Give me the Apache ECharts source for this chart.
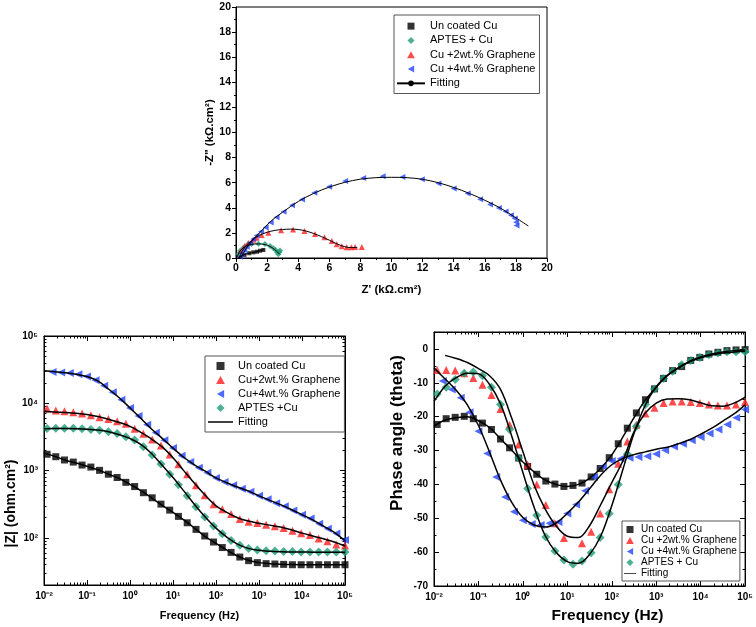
<!DOCTYPE html>
<html><head><meta charset="utf-8">
<script src="https://cdn.jsdelivr.net/npm/echarts@6/dist/echarts.min.js"></script>
<style>html,body{margin:0;padding:0;background:#fff}#c{width:756px;height:627px}</style>
</head><body><div id="c"></div>
<script>
// ---------- Nyquist data (kOhm.cm2) ----------
const nyBlackRe = [0.3, 0.55, 0.85, 1.11, 1.35, 1.55, 1.76];
const nyBlackIm = [0.1, 0.25, 0.38, 0.45, 0.5, 0.58, 0.64];
const nyGreenRe = [0.15, 0.26, 0.47, 0.69, 1.01, 1.44, 1.86, 2.19, 2.4, 2.55, 2.65, 2.72, 2.8, 2.83];
const nyGreenIm = [0.32, 0.58, 0.82, 1.01, 1.12, 1.14, 1.12, 0.96, 0.77, 0.64, 0.45, 0.3, 0.48, 0.6];
const nyRedRe = [0.3, 0.55, 0.79, 1.1, 1.33, 1.65, 2.08, 2.9, 3.67, 4.4, 5.08, 5.69, 6.16, 6.48, 6.8, 7.12, 7.42, 7.66, 8.09];
const nyRedIm = [0.55, 0.95, 1.22, 1.45, 1.62, 1.83, 2.02, 2.22, 2.27, 2.15, 1.92, 1.65, 1.35, 1.09, 0.93, 0.85, 0.85, 0.88, 0.88];
const nyBlueRe = [0.26, 0.37, 0.53, 0.69, 0.9, 1.11, 1.33, 1.61, 1.91, 2.23, 2.61, 3.06, 3.6, 4.25, 5.04, 5.99, 7.02, 8.18, 9.43, 10.7, 11.95, 13.02, 14.0, 14.9, 15.7, 16.34, 16.9, 17.34, 17.68, 17.93, 18.01, 18.04];
const nyBlueIm = [0.1, 0.37, 0.64, 0.9, 1.22, 1.51, 1.8, 2.12, 2.43, 2.82, 3.24, 3.69, 4.2, 4.67, 5.19, 5.67, 6.13, 6.37, 6.52, 6.45, 6.28, 5.93, 5.53, 5.14, 4.68, 4.27, 3.98, 3.71, 3.41, 3.15, 2.84, 2.58];
const nyFitBlackRe = [0.15, 0.4, 0.8, 1.2, 1.5, 1.8];
const nyFitBlackIm = [0.0, 0.2, 0.37, 0.47, 0.56, 0.66];
const nyFitGreenRe = [0.05, 0.2, 0.45, 0.8, 1.2, 1.6, 2.0, 2.35, 2.6, 2.8];
const nyFitGreenIm = [0.0, 0.45, 0.8, 1.02, 1.12, 1.12, 1.02, 0.8, 0.55, 0.3];
const nyFitRedRe = [0.2, 0.5, 1.0, 1.5, 2.0, 2.5, 3.0, 3.5, 4.0, 4.5, 5.0, 5.5, 6.0, 6.5, 7.0, 7.4, 7.8];
const nyFitRedIm = [0.0, 0.75, 1.4, 1.8, 2.05, 2.2, 2.27, 2.3, 2.27, 2.15, 1.95, 1.7, 1.42, 1.12, 0.9, 0.83, 0.84];
const nyFitBlueRe = [0.3, 0.5, 0.8, 1.2, 1.7, 2.3, 3.0, 4.0, 5.0, 6.0, 7.0, 8.0, 9.0, 10.0, 11.0, 12.0, 13.0, 14.0, 15.0, 16.0, 17.0, 18.0, 18.8];
const nyFitBlueIm = [0.0, 0.45, 1.0, 1.6, 2.25, 3.0, 3.65, 4.5, 5.15, 5.65, 6.03, 6.28, 6.4, 6.43, 6.4, 6.27, 6.0, 5.62, 5.15, 4.6, 3.98, 3.2, 2.55];

// ---------- Frequencies (Hz) ----------
const freq = [0.0118, 0.0188, 0.030, 0.048, 0.0767, 0.123, 0.196, 0.314, 0.502, 0.802, 1.28, 2.05, 3.28, 5.25, 8.38, 13.4, 21.4, 34.3, 54.8, 87.6, 140, 224, 358, 573, 916, 1465, 2340, 3740, 5985, 9570, 15300, 24450, 39100, 62500, 100000];
const freqBlue = [0.0158, 0.0251, 0.0398, 0.0631, 0.1, 0.158, 0.251, 0.398, 0.631, 1.0, 1.58, 2.51, 3.98, 6.31, 10, 15.8, 25.1, 39.8, 63.1, 100, 158, 251, 398, 631, 1000, 1585, 2512, 3981, 6310, 10000, 15850, 25120, 39810, 63100, 100000];
const fitFreq = [0.01, 0.0178, 0.0316, 0.0562, 0.1, 0.178, 0.316, 0.562, 1, 1.78, 3.16, 5.62, 10, 17.8, 31.6, 56.2, 100, 178, 316, 562, 1000, 1778, 3162, 5623, 10000, 17783, 31623, 56234, 100000];

// ---------- Bode |Z| (ohm.cm2) ----------
const zBlack = [1750, 1610, 1440, 1340, 1210, 1130, 1010, 885, 790, 670, 580, 470, 395, 318, 259, 209, 168, 134, 107, 87, 72, 61, 52, 46, 43, 41.5, 41, 40.5, 40, 40, 40, 40, 40, 40, 40];
const zRed = [8340, 7800, 7630, 7370, 7040, 6650, 6210, 5870, 5420, 4950, 4180, 3525, 2905, 2367, 1742, 1242, 883, 607, 432, 318, 268, 226, 191, 174, 167, 157, 149, 141, 128, 117, 111, 98, 89, 80, 77];
const zGreen = [4230, 4280, 4280, 4250, 4180, 4100, 3980, 3780, 3550, 3200, 2850, 2270, 1700, 1250, 880, 615, 425, 290, 205, 150, 115, 92, 78, 70, 66, 64.5, 64, 63, 63, 62, 62, 62, 62, 62, 62];
const zBlue = [29100, 28800, 28300, 27100, 25000, 22000, 18200, 14600, 11300, 8550, 6500, 4800, 3650, 2830, 2160, 1670, 1340, 1100, 930, 780, 680, 605, 540, 485, 422, 375, 329, 295, 255, 222, 194, 162, 137, 116, 93];
const zFitBlack = [1820, 1630, 1430, 1300, 1160, 1030, 885, 765, 625, 505, 395, 305, 240, 185, 140, 105, 83, 66, 54, 46.5, 43, 41.5, 40.8, 40.3, 40.1, 40, 40, 40, 40];
const zFitRed = [7550, 7450, 7300, 7100, 6800, 6350, 5800, 5200, 4550, 3700, 2950, 2250, 1550, 1000, 650, 430, 300, 240, 200, 178, 165, 155, 145, 132, 118, 107, 97, 87, 76];
const zFitGreen = [4200, 4230, 4230, 4200, 4130, 4000, 3780, 3420, 3000, 2450, 1800, 1200, 790, 500, 315, 205, 140, 103, 81, 70, 65.5, 63.5, 62.5, 62, 62, 61.5, 61.5, 61.5, 61.5];
const zFitBlue = [30400, 29500, 28500, 27000, 25000, 21500, 16300, 12100, 8550, 6000, 4150, 3020, 2160, 1580, 1220, 980, 780, 660, 570, 500, 422, 362, 312, 265, 222, 186, 150, 121, 91];

// ---------- Bode phase (deg) ----------
const phBlack = [-22.3, -20.6, -20.2, -19.9, -20.6, -21.9, -23.8, -26.6, -29.2, -32.2, -34.7, -37.0, -39.0, -39.9, -40.6, -40.3, -39.6, -37.8, -35.3, -32.1, -28.0, -23.4, -18.9, -15.0, -11.8, -8.7, -6.4, -5.2, -3.4, -2.5, -1.5, -1.0, -0.5, -0.3, -0.2];
const phRed = [-6.2, -6.2, -6.4, -7.2, -8.6, -10.6, -13.6, -17.7, -22.4, -28.2, -34.2, -40.0, -46.1, -51.5, -55.8, null, -57.4, -54.0, -48.6, -41.4, -33.9, -27.3, -22.4, -19.1, -17.4, -16.0, -15.5, -15.5, -15.7, -16.0, -16.4, -16.7, -16.7, -16.4, -15.7];
const phGreen = [-13.3, -11.3, -9.0, -7.2, -6.8, -7.9, -11.3, -16.4, -23.8, -32.2, -41.2, -49.1, -55.5, -59.7, -62.3, -63.6, -62.6, -60.2, -55.7, -48.6, -40.0, -31.0, -22.8, -16.4, -11.8, -8.7, -6.6, -4.7, -3.4, -2.5, -1.7, -1.2, -0.8, -0.8, -0.8];
const phBlue = [-9.5, -12.0, -14.4, -18.7, -24.3, -30.9, -37.8, -43.7, -48.1, -50.6, -51.7, -52.0, -51.5, -51.1, -48.6, -45.9, -41.9, -37.8, -34.7, -33.1, -32.4, -32.1, -31.9, -31.7, -31.0, -29.9, -28.8, -28.0, -27.0, -26.0, -25.0, -23.8, -22.3, -20.3, -17.9];
const phFitBlack = [-22.8, -21.0, -20.3, -20.0, -21.2, -23.2, -26.6, -29.9, -33.4, -36.3, -38.7, -40.0, -40.6, -40.0, -38.2, -35.3, -31.3, -26.0, -20.3, -15.2, -11.3, -7.9, -5.7, -3.7, -2.4, -1.5, -0.9, -0.5, -0.3];
const phFitRed = [null, -1.9, -2.8, -4.0, -5.8, -7.9, -12.0, -20.5, -30.3, -40.2, -47.2, -52.3, -55.3, -55.7, -52.2, -46.0, -39.5, -33.0, -24.5, -19.0, -16.0, -14.8, -14.7, -15.0, -15.9, -16.8, -16.9, -16.0, -14.2];
const phFitGreen = [-15.5, -11.0, -8.5, -7.2, -7.3, -10.5, -16.3, -25.8, -36.5, -46.7, -55.1, -60.1, -62.8, -63.3, -60.7, -55.3, -46.3, -35.6, -25.0, -16.7, -11.2, -7.8, -5.5, -3.8, -2.6, -1.8, -1.2, -0.9, -0.7];
const phFitBlue = [-5.6, -8.9, -12.2, -16.5, -22.6, -30.5, -38.8, -45.3, -49.8, -52.0, -52.6, -51.4, -48.5, -45.2, -41.3, -37.3, -34.2, -32.3, -31.2, -30.4, -29.6, -29.0, -28.0, -26.8, -25.2, -23.4, -21.3, -19.2, -16.5];

// ---------- styling ----------
const FONT = '"Liberation Sans", Arial, sans-serif';
const C_BLACK = '#000000', C_RED = '#ff1e1e', C_BLUE = '#2244ff', C_GREEN = '#1f9e78';
const SYM_SQ = 'path://M0,0H10V10H0Z';
const SYM_DIA = 'path://M5,0L10,5L5,10L0,5Z';
const SYM_TRI = 'path://M5,0L10,9L0,9Z';
const SYM_LEFT = 'path://M10,0L10,10L1,5Z';
const LINE_ICON = 'path://M0,0H100V6H0Z';
const SUP = {'-':'\u207B','0':'\u2070','1':'\u00B9','2':'\u00B2','3':'\u00B3','4':'\u2074','5':'\u2075','6':'\u2076','7':'\u2077','8':'\u2078','9':'\u2079'};
function powLabel(v) {
  const e = Math.log10(v), r = Math.round(e);
  if (Math.abs(e - r) > 1e-6) return '';
  return '10' + String(r).split('').map(c => SUP[c]).join('');
}
function pairs(xs, ys) {
  const out = [];
  for (let i = 0; i < xs.length; i++) if (ys[i] != null && xs[i] != null) out.push([xs[i], ys[i]]);
  return out;
}
function minorLog(e0, e1, firstMult) {
  const out = [];
  for (let e = e0; e <= e1; e++) for (let m = (e === e0 ? firstMult : 2); m <= 9; m++) out.push(+(m * Math.pow(10, e)).toPrecision(6));
  return out;
}
const minorFreq = minorLog(-2, 4, 2);
const minorZ = minorLog(1, 4, 3);

const axLine = {show: true, onZero: false, lineStyle: {color: '#000', width: 1}};
const noLine = {show: false, onZero: false};
function lbl(size) { return {color: '#000', fontFamily: FONT, fontWeight: 'bold', fontSize: size}; }

function logAxis(grid, pos, min, max, opts) {
  const a = {
    type: 'log', gridIndex: grid, position: pos, min: min, max: max, logBase: 10,
    axisLine: opts.line ? axLine : noLine,
    axisTick: {show: true, inside: true, length: opts.minor ? 2.5 : 5, lineStyle: {color: '#000', width: 1}},
    axisLabel: {show: false},
    splitLine: {show: false}, minorTick: {show: false}, minorSplitLine: {show: false}
  };
  if (opts.minor) a.axisTick.customValues = opts.minor;
  if (opts.label) a.axisLabel = Object.assign({show: true, formatter: powLabel, margin: 6, showMinLabel: true}, lbl(opts.label));
  if (opts.name) {
    a.name = opts.name; a.nameLocation = 'middle'; a.nameGap = opts.nameGap;
    a.nameTextStyle = {color: '#000', fontFamily: FONT, fontWeight: 'bold', fontSize: opts.nameSize, padding: opts.namePad || 0};
  }
  return a;
}

const xAxis = [
  { // 0 Nyquist
    type: 'value', gridIndex: 0, min: 0, max: 20, interval: 2,
    axisLine: axLine, axisTick: {inside: false, length: 4, lineStyle: {color: '#000'}},
    minorTick: {show: true, splitNumber: 2, length: 2, lineStyle: {color: '#000'}},
    axisLabel: Object.assign({margin: 5}, lbl(10.5)), splitLine: {show: false},
    name: "Z' (k\u03A9.cm\u00B2)", nameLocation: 'middle', nameGap: 26,
    nameTextStyle: {color: '#000', fontFamily: FONT, fontWeight: 'bold', fontSize: 11.5}
  },
  logAxis(1, 'bottom', 0.01, 1e5, {line: true, label: 10, name: 'Frequency (Hz)', nameGap: 25, nameSize: 11, namePad: [0, 0, 0, 10]}), // 1
  logAxis(1, 'bottom', 0.01, 1e5, {minor: minorFreq}), // 2
  logAxis(1, 'top', 0.01, 1e5, {line: true}), // 3
  logAxis(1, 'top', 0.01, 1e5, {minor: minorFreq}), // 4
  logAxis(2, 'bottom', 0.01, 1e5, {line: true, label: 10, name: 'Frequency (Hz)', nameGap: 22, nameSize: 15.5, namePad: [0, 0, 0, 36]}), // 5
  logAxis(2, 'bottom', 0.01, 1e5, {minor: minorFreq}), // 6
  logAxis(2, 'top', 0.01, 1e5, {line: true}), // 7
  logAxis(2, 'top', 0.01, 1e5, {minor: minorFreq}) // 8
];

const yAxis = [
  { // 0 Nyquist
    type: 'value', gridIndex: 0, min: 0, max: 20, interval: 2,
    axisLine: axLine, axisTick: {inside: false, length: 4, lineStyle: {color: '#000'}},
    minorTick: {show: true, splitNumber: 2, length: 2, lineStyle: {color: '#000'}},
    axisLabel: Object.assign({margin: 5}, lbl(10.5)), splitLine: {show: false},
    name: "-Z'' (k\u03A9.cm\u00B2)", nameLocation: 'middle', nameGap: 20,
    nameTextStyle: {color: '#000', fontFamily: FONT, fontWeight: 'bold', fontSize: 11.5}
  },
  logAxis(1, 'left', 20, 1e5, {line: true, label: 10, name: '|Z| (ohm.cm\u00B2)', nameGap: 25, nameSize: 14, namePad: [0, 86, 0, 0]}), // 1
  logAxis(1, 'left', 20, 1e5, {minor: minorZ}), // 2
  logAxis(1, 'right', 20, 1e5, {line: true}), // 3
  logAxis(1, 'right', 20, 1e5, {minor: minorZ}), // 4
  { // 5 phase
    type: 'value', gridIndex: 2, min: -70, max: 5, interval: 10, position: 'left',
    axisLine: axLine, axisTick: {inside: true, length: 5, lineStyle: {color: '#000'}},
    minorTick: {show: true, splitNumber: 2, length: 2.5, lineStyle: {color: '#000'}},
    axisLabel: Object.assign({margin: 6, showMaxLabel: false}, lbl(10)), splitLine: {show: false},
    name: 'Phase angle (theta)', nameLocation: 'middle', nameGap: 28,
    nameTextStyle: {color: '#000', fontFamily: FONT, fontWeight: 'bold', fontSize: 17, padding: [0, 0, 0, 52]}
  },
  { // 6 phase right
    type: 'value', gridIndex: 2, min: -70, max: 5, interval: 10, position: 'right',
    axisLine: axLine, axisTick: {inside: true, length: 5, lineStyle: {color: '#000'}},
    minorTick: {show: true, splitNumber: 2, length: 2.5, lineStyle: {color: '#000'}},
    axisLabel: {show: false}, splitLine: {show: false}
  }
];

function scat(name, xi, yi, data, sym, size, color) {
  return {type: 'scatter', name: name, xAxisIndex: xi, yAxisIndex: yi, data: data,
    symbol: sym, symbolSize: size, itemStyle: {color: color}, z: 2, animation: false};
}
function fit(name, xi, yi, data, withSym, width) {
  return {type: 'line', name: name, xAxisIndex: xi, yAxisIndex: yi, data: data, smooth: 0.35,
    symbol: withSym ? 'circle' : 'none', symbolSize: 2, showSymbol: false,
    lineStyle: {color: '#000', width: width}, itemStyle: {color: '#000'}, z: 3, animation: false, connectNulls: false};
}

const series = [
  // Nyquist
  scat('Un coated Cu', 0, 0, pairs(nyBlackRe, nyBlackIm), SYM_SQ, 4, C_BLACK),
  scat('APTES + Cu', 0, 0, pairs(nyGreenRe, nyGreenIm), SYM_DIA, 6, C_GREEN),
  scat('Cu +2wt.% Graphene', 0, 0, pairs(nyRedRe, nyRedIm), SYM_TRI, 6, C_RED),
  scat('Cu +4wt.% Graphene', 0, 0, pairs(nyBlueRe, nyBlueIm), SYM_LEFT, 6, C_BLUE),
  fit('Fitting', 0, 0, pairs(nyFitBlueRe, nyFitBlueIm), true, 1),
  fit('Fitting', 0, 0, pairs(nyFitRedRe, nyFitRedIm), true, 1),
  fit('Fitting', 0, 0, pairs(nyFitGreenRe, nyFitGreenIm), true, 1),
  fit('Fitting', 0, 0, pairs(nyFitBlackRe, nyFitBlackIm), true, 1),
  // Bode |Z|
  scat('Un coated Cu', 1, 1, pairs(freq, zBlack), SYM_SQ, 7, C_BLACK),
  scat('Cu+2wt.% Graphene', 1, 1, pairs(freq, zRed), SYM_TRI, 8, C_RED),
  scat('Cu+4wt.% Graphene', 1, 1, pairs(freqBlue, zBlue), SYM_LEFT, 8, C_BLUE),
  scat('APTES +Cu', 1, 1, pairs(freq, zGreen), SYM_DIA, 9, C_GREEN),
  fit('Fitting ', 1, 1, pairs(fitFreq, zFitBlue), false, 1.5),
  fit('Fitting ', 1, 1, pairs(fitFreq, zFitRed), false, 1.5),
  fit('Fitting ', 1, 1, pairs(fitFreq, zFitGreen), false, 1.5),
  fit('Fitting ', 1, 1, pairs(fitFreq, zFitBlack), false, 1.5),
  // Phase
  scat('Un coated Cu', 5, 5, pairs(freq, phBlack), SYM_SQ, 7, C_BLACK),
  scat('Cu +2wt.% Graphene', 5, 5, pairs(freq, phRed), SYM_TRI, 8, C_RED),
  scat('Cu +4wt.% Graphene', 5, 5, pairs(freqBlue, phBlue), SYM_LEFT, 8, C_BLUE),
  scat('APTES + Cu', 5, 5, pairs(freq, phGreen), SYM_DIA, 9, C_GREEN),
  fit('Fitting ', 5, 5, pairs(fitFreq, phFitBlack), false, 1.5),
  fit('Fitting ', 5, 5, pairs(fitFreq, phFitRed), false, 1.5),
  fit('Fitting ', 5, 5, pairs(fitFreq, phFitGreen), false, 1.5),
  fit('Fitting ', 5, 5, pairs(fitFreq, phFitBlue), false, 1.5)
];

const legendBase = {orient: 'vertical', selectedMode: false, borderColor: '#555', borderWidth: 1, borderRadius: 0,
  backgroundColor: '#fff', itemGap: 0};
const legend = [
  Object.assign({}, legendBase, {
    left: 394, top: 15, padding: [4, 4, 3, 2], itemWidth: 28, itemHeight: 7,
    textStyle: {color: '#000', fontFamily: FONT, fontSize: 11, lineHeight: 14.3},
    data: ['Un coated Cu', 'APTES + Cu', 'Cu +2wt.% Graphene', 'Cu +4wt.% Graphene', 'Fitting']
  }),
  Object.assign({}, legendBase, {
    left: 205, top: 356, padding: [3, 4, 3, 3], itemWidth: 25, itemHeight: 8,
    textStyle: {color: '#000', fontFamily: FONT, fontSize: 11, lineHeight: 14},
    data: ['Un coated Cu', 'Cu+2wt.% Graphene', 'Cu+4wt.% Graphene', 'APTES +Cu', {name: 'Fitting ', icon: LINE_ICON}]
  }),
  Object.assign({}, legendBase, {
    left: 622, top: 521, padding: [3, 3, 2, 2], itemWidth: 12, itemHeight: 7,
    textStyle: {color: '#000', fontFamily: FONT, fontSize: 10, lineHeight: 11},
    data: ['Un coated Cu', 'Cu +2wt.% Graphene', 'Cu +4wt.% Graphene', 'APTES + Cu', {name: 'Fitting ', icon: LINE_ICON}]
  })
];

const option = {
  animation: false,
  backgroundColor: '#ffffff',
  textStyle: {fontFamily: FONT},
  grid: [
    {left: 236, top: 7, width: 311, height: 251, show: true, borderColor: '#000', borderWidth: 1, backgroundColor: 'transparent'},
    {left: 44, top: 336, width: 301, height: 249, show: true, borderColor: '#000', borderWidth: 1, backgroundColor: 'transparent'},
    {left: 434, top: 332, width: 314, height: 254, show: true, borderColor: '#000', borderWidth: 1, backgroundColor: 'transparent'}
  ],
  legend: legend,
  xAxis: xAxis,
  yAxis: yAxis,
  series: series
};
const chart = echarts.init(document.getElementById('c'), null, {renderer: 'canvas'});
chart.setOption(option);
</script>
</body></html>
